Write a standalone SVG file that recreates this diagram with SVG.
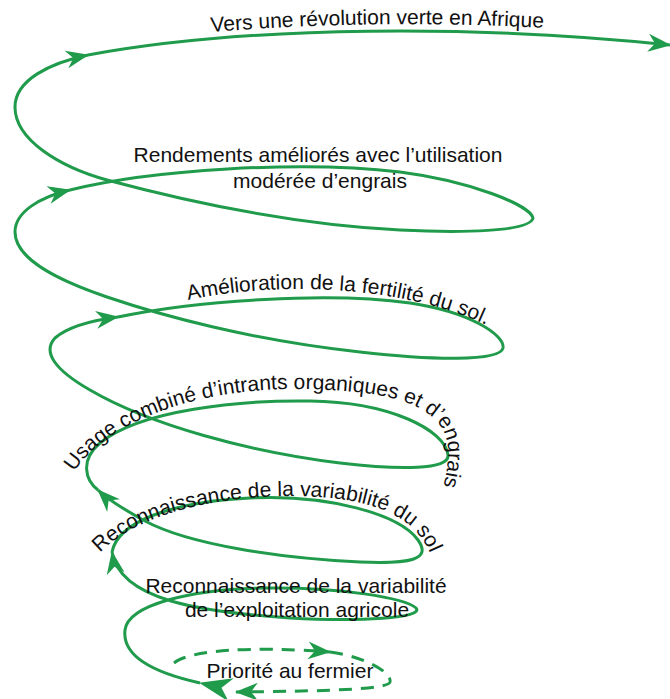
<svg xmlns="http://www.w3.org/2000/svg" xmlns:xlink="http://www.w3.org/1999/xlink" width="670" height="699" viewBox="0 0 670 699">
  <style>
    .sp { fill: none; stroke: #1f9b4b; stroke-width: 3; stroke-linecap: butt; stroke-linejoin: round; }
    .dash { stroke-dasharray: 13 9; }
    .t { font-family: "Liberation Sans", Arial, Helvetica, sans-serif; font-size: 21px; fill: #111; }
    .c { text-anchor: middle; }
  </style>
  <defs>
    <marker id="arr" viewBox="-24 -11 26 22" refX="0" refY="0" markerWidth="26" markerHeight="22" markerUnits="userSpaceOnUse" orient="auto">
      <path d="M1,0 L-22,-9 L-15,0 L-22,9 Z" fill="#1f9b4b"/>
    </marker>
    <marker id="big" viewBox="-34 -14 36 28" refX="0" refY="0" markerWidth="36" markerHeight="28" markerUnits="userSpaceOnUse" orient="auto">
      <path d="M1,0 L-32,-12 L-22,0 L-32,12 Z" fill="#1f9b4b"/>
    </marker>
    <path id="p-vers" d="M 211,32 Q 385,18 565,29"/>
    <path id="p-amel" d="M 188,300 C 280,280 420,285 505,335"/>
    <path id="p-usage" d="M 74,472 C 108,420 200,388 300,389 C 370,390 425,398 443,430 C 452,448 448,470 440,500"/>
    <path id="p-recsol" d="M 100,553 C 145,505 250,492 320,497 C 385,502 428,522 436,575"/>
  </defs>

  <g id="connectors">
    <path class="sp" marker-start="url(#big)" marker-end="url(#arr)" d="M 200,683 C 150,672 122,655 125,630 C 128,605 190,589 265,588 C 340,587 405,598 416,608 C 425,618 360,622 290,618 C 200,612 120,600 112,552"/>
    <path class="sp" marker-end="url(#arr)" d="M 112,552 C 118,522 170,502 250,498 C 330,494 400,515 418,540 C 432,560 410,564 360,562 C 280,558 190,545 145,521 C 125,510 108,500 98,490"/>
    <path class="sp" marker-end="url(#arr)" d="M 98,490 C 85,480 80,460 100,443 C 140,410 240,400 310,401 C 390,402 445,430 448,455 C 450,470 400,470 340,463 C 250,452 150,425 90,390 C 55,370 42,352 55,338 C 70,325 95,320 118,317"/>
    <path class="sp" marker-end="url(#arr)" d="M 118,317 C 200,300 330,292 410,303 C 470,312 505,335 503,348 C 500,362 430,360 360,352 C 250,340 160,315 107,297 C 60,281 15,260 15,232 C 15,212 40,197 70,190"/>
    <path class="sp" marker-end="url(#arr)" d="M 70,190 C 150,170 300,160 400,172 C 470,181 530,205 533,218 C 530,232 460,233 400,230 C 300,225 200,205 107,180 C 60,167 15,140 15,107 C 15,80 50,63 88,55"/>
    <path class="sp" marker-end="url(#arr)" d="M 88,55 C 250,25 480,25 670,45"/>
    <path class="sp dash" marker-end="url(#arr)" d="M 174,663 C 190,650 250,646 330,652"/>
    <path class="sp dash" marker-end="url(#arr)" d="M 330,652 C 365,657 392,672 390,682 C 388,690 320,691 236,692"/>
  </g>

  <g id="n-vers">
    <text class="t"><textPath xlink:href="#p-vers" href="#p-vers">Vers une révolution verte en Afrique</textPath></text>
  </g>
  <g id="n-rendements">
    <text class="t c" x="318" y="162">Rendements améliorés avec l’utilisation</text>
    <text class="t c" x="320" y="188">modérée d’engrais</text>
  </g>
  <g id="n-amelioration">
    <text class="t"><textPath xlink:href="#p-amel" href="#p-amel">Amélioration de la fertilité du sol.</textPath></text>
  </g>
  <g id="n-usage">
    <text class="t"><textPath xlink:href="#p-usage" href="#p-usage">Usage combiné d’intrants organiques et d’engrais</textPath></text>
  </g>
  <g id="n-recsol">
    <text class="t"><textPath xlink:href="#p-recsol" href="#p-recsol">Reconnaissance de la variabilité du sol</textPath></text>
  </g>
  <g id="n-recexp">
    <text class="t c" x="296" y="593">Reconnaissance de la variabilité</text>
    <text class="t c" x="297" y="617">de l’exploitation agricole</text>
  </g>
  <g id="n-priorite">
    <text class="t c" x="290" y="678">Priorité au fermier</text>
  </g>
</svg>
